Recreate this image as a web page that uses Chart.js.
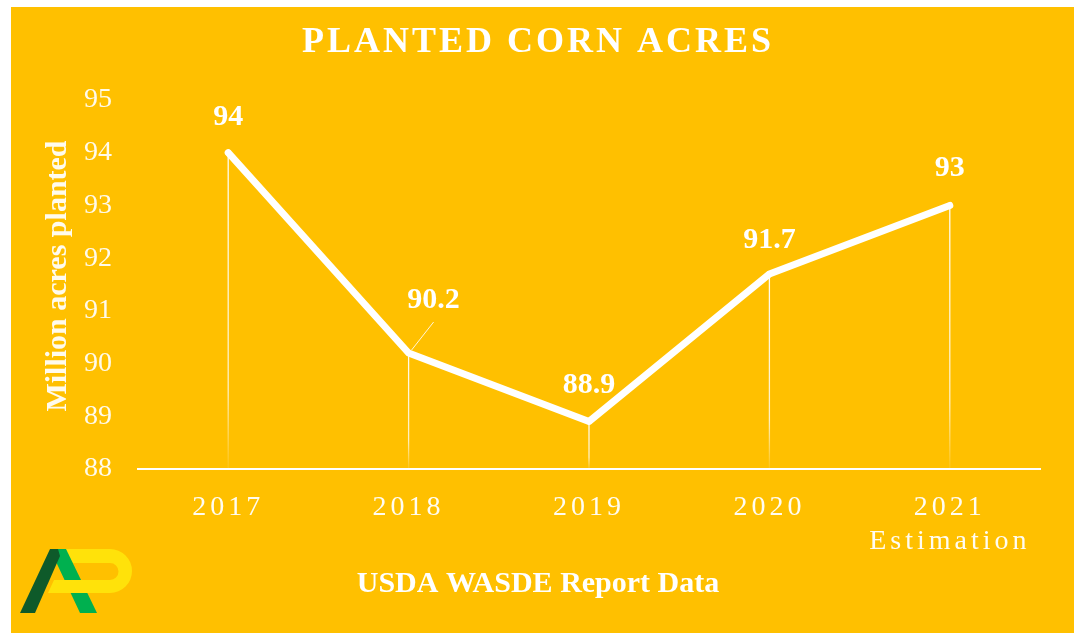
<!DOCTYPE html>
<html>
<head>
<meta charset="utf-8">
<script src="https://cdn.jsdelivr.net/npm/chart.js@4/dist/chart.umd.min.js"></script>
<style>
  html, body { margin: 0; padding: 0; background: #ffffff; }
  #wrap { position: absolute; left: 11px; top: 7px; width: 1063px; height: 626px; background: #FFC000; }
</style>
</head>
<body>
<div id="wrap"><canvas id="c"></canvas></div>
<script>
// ---- data ----
const categories = [['2017'], ['2018'], ['2019'], ['2020'], ['2021', 'Estimation']];
const acres = [94, 90.2, 88.9, 91.7, 93];
const valueLabels = ['94', '90.2', '88.9', '91.7', '93'];
const yTicks = [88, 89, 90, 91, 92, 93, 94, 95];
const chartTitle = 'PLANTED CORN ACRES';
const yAxisTitle = 'Million acres planted';
const sourceNote = 'USDA WASDE Report Data';

// label offsets (style, px)
const labelOffsets = [[0, -35], [25, -53], [0, -36], [0, -34], [0, -37]];

const SERIF = '"Liberation Serif", "Times New Roman", serif';

const decorPlugin = {
  id: 'decor',
  afterDatasetsDraw(chart) {
    const ctx = chart.ctx;
    const meta = chart.getDatasetMeta(0);
    const yBottom = chart.scales.y.getPixelForValue(yTicks[0]);
    // drop lines
    ctx.save();
    meta.data.forEach((pt) => {
      const g = ctx.createLinearGradient(0, pt.y, 0, yBottom);
      g.addColorStop(0, 'rgba(255,255,255,0.95)');
      g.addColorStop(0.75, 'rgba(255,255,255,0.75)');
      g.addColorStop(1, 'rgba(255,255,255,0.08)');
      ctx.strokeStyle = g;
      ctx.lineWidth = 1.3;
      ctx.beginPath();
      ctx.moveTo(pt.x, pt.y);
      ctx.lineTo(pt.x, yBottom);
      ctx.stroke();
    });
    ctx.restore();
    // value labels
    ctx.save();
    ctx.fillStyle = '#ffffff';
    ctx.font = 'bold 30px ' + SERIF;
    ctx.textAlign = 'center';
    ctx.textBaseline = 'middle';
    meta.data.forEach((pt, i) => {
      const [dx, dy] = labelOffsets[i];
      ctx.fillText(valueLabels[i], pt.x + dx, pt.y + dy);
      if (dx !== 0) {
        ctx.strokeStyle = 'rgba(255,255,255,0.85)';
        ctx.lineWidth = 1;
        ctx.beginPath();
        ctx.moveTo(pt.x + 3, pt.y - 3);
        ctx.lineTo(pt.x + dx, pt.y + dy + 22);
        ctx.stroke();
      }
    });
    ctx.restore();
    // letter spacing for x tick labels drawn next (z:1)
    ctx.letterSpacing = '4px';
  },
  afterDraw(chart) {
    const ctx = chart.ctx;
    ctx.letterSpacing = '0px';
    ctx.save();
    ctx.fillStyle = '#ffffff';
    ctx.textAlign = 'center';
    ctx.textBaseline = 'middle';
    // title
    ctx.letterSpacing = '3px';
    ctx.font = 'bold 36px ' + SERIF;
    ctx.fillText(chartTitle, 527, 36);
    ctx.letterSpacing = '0px';
    // source note
    ctx.font = 'bold 30px ' + SERIF;
    ctx.fillText(sourceNote, 527, 577);
    // y axis title
    ctx.save();
    ctx.translate(47, 269);
    ctx.rotate(-Math.PI / 2);
    ctx.font = 'bold 30px ' + SERIF;
    ctx.fillStyle = 'rgba(255,255,255,0.93)';
    ctx.fillText(yAxisTitle, 0, 0);
    ctx.restore();
    ctx.restore();
    // logo
    ctx.save();
    ctx.translate(-11, -7);
    ctx.fillStyle = '#FFE20A';
    ctx.beginPath();
    ctx.moveTo(58, 549);
    ctx.lineTo(110, 549);
    ctx.arc(110, 571, 22, -Math.PI / 2, Math.PI / 2);
    ctx.lineTo(48, 593);
    ctx.lineTo(54, 580);
    ctx.lineTo(110, 580);
    ctx.arc(110, 571.5, 8.5, Math.PI / 2, -Math.PI / 2, true);
    ctx.lineTo(64, 563);
    ctx.closePath();
    ctx.fill();
    ctx.fillStyle = '#00B04F';
    ctx.beginPath();
    ctx.moveTo(50, 549);
    ctx.lineTo(66, 549);
    ctx.lineTo(97, 613);
    ctx.lineTo(80, 613);
    ctx.closePath();
    ctx.fill();
    ctx.fillStyle = '#FFE20A';
    ctx.beginPath();
    ctx.moveTo(60, 580);
    ctx.lineTo(110, 580);
    ctx.lineTo(110, 593);
    ctx.lineTo(60, 593);
    ctx.closePath();
    ctx.fill();
    ctx.fillStyle = '#0E5A2A';
    ctx.beginPath();
    ctx.moveTo(50, 549);
    ctx.lineTo(58, 549);
    ctx.lineTo(60, 556);
    ctx.lineTo(35, 613);
    ctx.lineTo(20, 613);
    ctx.closePath();
    ctx.fill();
    ctx.restore();
  }
};

new Chart(document.getElementById('c'), {
  type: 'line',
  data: {
    labels: categories,
    datasets: [{
      data: acres,
      borderColor: '#ffffff',
      backgroundColor: '#ffffff',
      borderWidth: 7,
      borderJoinStyle: 'round',
      borderCapStyle: 'round',
      pointRadius: 3,
      pointBorderWidth: 0,
      pointBackgroundColor: '#ffffff',
      tension: 0,
      fill: false
    }]
  },
  options: {
    responsive: true,
    maintainAspectRatio: false,
    animation: false,
    events: [],
    layout: { padding: { top: 93, right: 34, bottom: 0, left: 0 } },
    plugins: { legend: { display: false }, tooltip: { enabled: false }, title: { display: false } },
    scales: {
      x: {
        type: 'category',
        offset: true,
        grid: { display: false, drawTicks: false },
        border: { display: true, color: '#ffffff', width: 2 },
        ticks: {
          z: 1,
          color: 'rgba(255,255,255,0.95)',
          font: { family: SERIF, size: 28, lineHeight: 1.2 },
          padding: 22,
          maxRotation: 0,
          autoSkip: false
        },
        afterFit(scale) { scale.height = 164; }
      },
      y: {
        min: yTicks[0],
        max: yTicks[yTicks.length - 1],
        grid: { display: false, drawTicks: false },
        border: { display: false },
        afterBuildTicks(scale) { scale.ticks = yTicks.map(v => ({ value: v })); },
        ticks: {
          color: 'rgba(255,255,255,0.92)',
          font: { family: SERIF, size: 28 },
          padding: 26
        },
        afterFit(scale) { scale.width = 127; }
      }
    }
  },
  plugins: [decorPlugin]
});
</script>
</body>
</html>
